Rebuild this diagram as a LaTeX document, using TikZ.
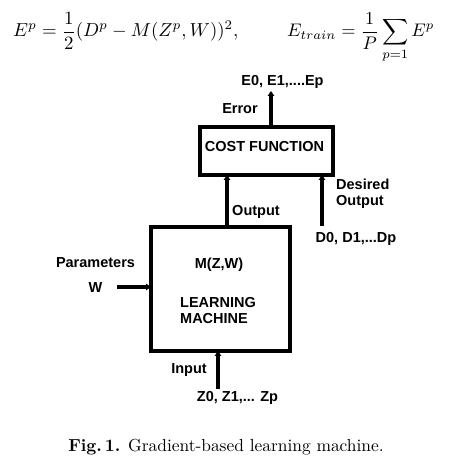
\documentclass[tikz,border=0pt]{standalone}
\usepackage{graphicx}
\usepackage{fontspec}
\newfontfamily\lsans{Liberation Sans}
\usetikzlibrary{arrows.meta}
\tikzset{
  x=1pt,y=1pt,
  box/.style={draw, line width=4pt, inner sep=0pt, outer sep=0pt},
  lbl/.style={inner sep=0pt, anchor=base, font=\lsans\bfseries\fontsize{14.5}{16}\selectfont},
  arr/.style={line width=3.5pt, -{Triangle[length=5pt,width=6.5pt]}},
  eq/.style={inner sep=0pt, anchor=base west},
}
\begin{document}
\begin{tikzpicture}
\useasboundingbox (0,0) rectangle (456,474);
% equations
\node[eq] (eq1) at (13,437) {\scalebox{1.88}{$\displaystyle E^p=\frac{1}{2}(D^p-M(Z^p,W))^2,$}};
\node[eq] (eq2) at (287,437) {\scalebox{1.82}{$\displaystyle E_{train}=\frac{1}{P}\sum_{p=1}E^p$}};
% boxes
\node[box, minimum width=133pt, minimum height=48pt] (cost) at (266.5,323) {};
\node[box, minimum width=139pt, minimum height=124pt] (lm) at (220.5,185) {};
% texts
\node[lbl] (costt) at (264.5,322) {COST FUNCTION};
\node[lbl] (errs) at (282.5,388) {E0, E1,....Ep};
\node[lbl] (err) at (240,360) {Error};
\node[lbl] (out) at (256,258) {Output};
\node[lbl, anchor=base west] (des1) at (336,284) {Desired};
\node[lbl, anchor=base west] (des2) at (336,268) {Output};
\node[lbl] (ds) at (356,231) {D0, D1,...Dp};
\node[lbl] (par) at (95.5,206) {Parameters};
\node[lbl] (w) at (95.5,181) {W};
\node[lbl] (mzw) at (219,205) {M(Z,W)};
\node[lbl, anchor=base west] (lrn) at (180,166) {LEARNING};
\node[lbl, anchor=base west] (mch) at (180,150) {MACHINE};
\node[lbl] (inp) at (189,100) {Input};
\node[lbl] (zs) at (237.5,72) {Z0, Z1,... Zp};
% connector coordinates
\coordinate (errtip) at (271,383);
\coordinate (ox) at (227,0);
\coordinate (dstart) at (322,248);
\coordinate (wstart) at (117,187);
\coordinate (istart) at (218,85);
% connectors
\draw[arr] (cost.north -| errtip) -- (errtip);
\draw[arr] (lm.north -| ox) -- (cost.south -| ox);
\draw[arr] (dstart) -- (cost.south -| dstart);
\draw[arr] (wstart) -- (lm.west |- wstart);
\draw[arr] (istart) -- (lm.south -| istart);
% caption
\node[inner sep=0pt, anchor=base] (cap) at (226,22) {\scalebox{1.74}{\textbf{Fig.\,1.} Gradient-based learning machine.}};
\end{tikzpicture}
\end{document}
